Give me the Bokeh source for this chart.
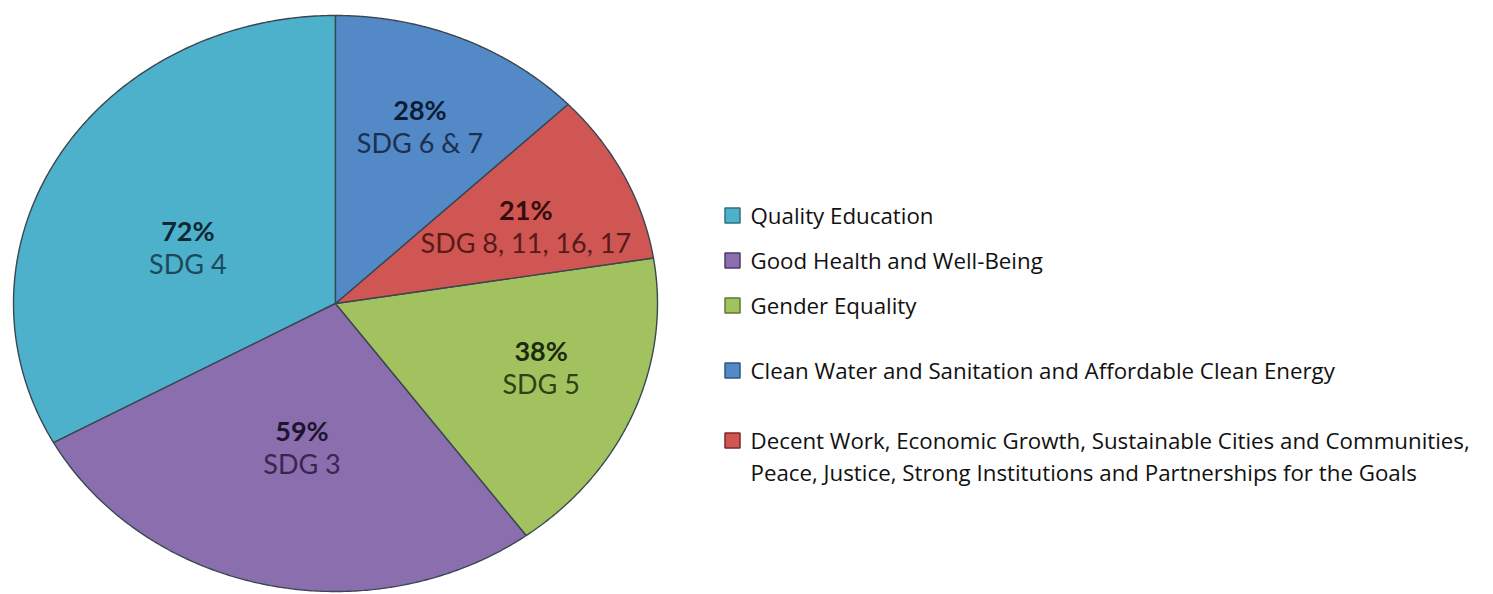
import numpy as np
from bokeh.plotting import figure
from bokeh.models import Range1d, ColumnDataSource
from bokeh.core.properties import value
from bokeh.embed import file_html
from bokeh.resources import INLINE

# ---------------- data ----------------
legend_names = [
    "Quality Education",
    "Good Health and Well-Being",
    "Gender Equality",
    "Clean Water and Sanitation and Affordable Clean Energy",
    "Decent Work, Economic Growth, Sustainable Cities and Communities,\nPeace, Justice, Strong Institutions and Partnerships for the Goals",
]
sdg_labels = ["SDG 4", "SDG 3", "SDG 5", "SDG 6 & 7", "SDG 8, 11, 16, 17"]
percentages = [72, 59, 38, 28, 21]

# ---------------- style ----------------
fill_colors = ["#4DB1CB", "#8A6EAD", "#A2C260", "#5389C7", "#CF5652"]
edge_colors = ["#2f6f80", "#4e3a6a", "#5c7a2c", "#2d5787", "#7f2a28"]
pct_colors = ["#0f2733", "#1e1430", "#1c2a0c", "#0c1c36", "#350c0c"]
sdg_colors = ["#1d4a5b", "#39264f", "#2d4214", "#1a3152", "#5a1a1a"]
pie_order = [0, 1, 2, 4, 3]  # counter-clockwise from 12 o'clock
# small pixel nudges of the data labels (Excel "best fit" placement)
label_nudge = [(-9, 17), (1, 3), (9, -8), (1, -2), (0, 8)]

W, H = 1485, 594
CX, CY, RX, RY = 335, 303, 322, 288   # pixel layout of the pie

p = figure(width=W, height=H, output_backend="svg", toolbar_location=None,
           x_range=Range1d(0, W), y_range=Range1d(H, 0),
           min_border=0, outline_line_color=None)
p.axis.visible = False
p.grid.visible = False
p.background_fill_color = "white"
p.border_fill_color = "white"

total = float(sum(percentages))
xs, ys, fc = [], [], []
lab_x, lab_y, lab_i = [], [], []
theta = np.pi / 2
for i in pie_order:
    span = 2 * np.pi * percentages[i] / total
    t = np.linspace(theta, theta + span, 200)
    xs.append([CX] + list(CX + RX * np.cos(t)) + [CX])
    ys.append([CY] + list(CY - RY * np.sin(t)) + [CY])
    fc.append(fill_colors[i])
    mid = theta + span / 2
    r = 0.5 if percentages[i] / total > 0.25 else 0.66
    lab_x.append(CX + r * RX * np.cos(mid) + label_nudge[i][0])
    lab_y.append(CY - r * RY * np.sin(mid) + label_nudge[i][1])
    lab_i.append(i)
    theta += span

p.patches(xs, ys, fill_color=fc, line_color="#3a4652", line_width=1.4)

pct_src = ColumnDataSource(dict(
    x=lab_x, y=[y - 17 for y in lab_y],
    t=[f"{percentages[i]}%" for i in lab_i],
    c=[pct_colors[i] for i in lab_i]))
sdg_src = ColumnDataSource(dict(
    x=lab_x, y=[y + 16 for y in lab_y],
    t=[sdg_labels[i] for i in lab_i],
    c=[sdg_colors[i] for i in lab_i]))
p.text(x="x", y="y", text="t", source=pct_src, text_color="c",
       text_font=value("Lato"), text_font_size="27px", text_font_style="bold",
       text_align="center", text_baseline="middle")
p.text(x="x", y="y", text="t", source=sdg_src, text_color="c",
       text_font=value("Lato"), text_font_size="27px",
       text_align="center", text_baseline="middle")

# ---------------- legend ----------------
leg_y = [215, 260, 305, 370, 440]
LINE_H = 32
sq_x, sq_y = [], []
tx, ty, tt = [], [], []
for i, name in enumerate(legend_names):
    sq_x.append(732)
    sq_y.append(leg_y[i])
    for k, line in enumerate(name.split("\n")):
        tx.append(750)
        ty.append(leg_y[i] + k * LINE_H)
        tt.append(line)

p.rect(x=sq_x, y=sq_y, width=15, height=15, width_units="screen",
       height_units="screen", fill_color=fill_colors, line_color=edge_colors,
       line_width=1.5)
p.text(x=tx, y=ty, text=tt, text_color="#111111", text_font=value("Open Sans"),
       text_font_size="22.3px", text_align="left", text_baseline="middle")

open("out.html", "w").write(file_html(p, INLINE))
